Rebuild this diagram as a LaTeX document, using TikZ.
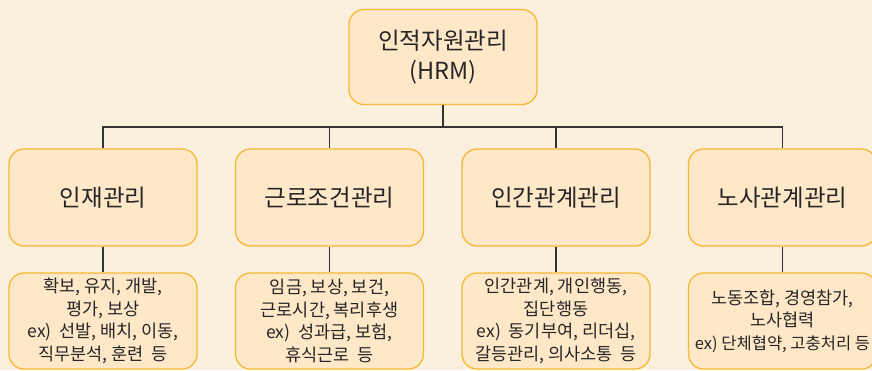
\documentclass[tikz,border=0pt]{standalone}
\usepackage{fontspec}
\setmainfont{Noto Sans CJK KR}
\definecolor{bgc}{RGB}{251,240,221}
\definecolor{boxfill}{RGB}{255,232,200}
\definecolor{boxline}{RGB}{246,184,52}
\definecolor{linec}{RGB}{51,51,51}
\newcommand{\gapsp}{\hspace{0.45em}}
\begin{document}
\begin{tikzpicture}[x=1pt,y=-1pt,
  hbox/.style={draw=boxline,fill=boxfill,line width=1.3pt,rounded corners=15pt,
    minimum width=188pt,align=center,inner sep=0pt,text=black!85},
  topbox/.style={hbox,minimum height=95pt,font=\fontsize{23.5}{30}\selectfont},
  midbox/.style={hbox,minimum height=97pt,font=\fontsize{23.5}{26}\selectfont},
  lowbox/.style={hbox,minimum height=96pt,font=\fontsize{17.5}{22.5}\selectfont},
  conn/.style={draw=linec,line width=1.5pt}]
\fill[bgc] (0,0) rectangle (872,370);
\useasboundingbox (0,0) rectangle (872,370);
\node[topbox] (top) at (443,57) {인적자원관리\\(HRM)};
\node[midbox] (m1) at (103,197.5) {인재관리};
\node[midbox] (m2) at (329.5,197.5) {근로조건관리};
\node[midbox] (m3) at (556,197.5) {인간관계관리};
\node[midbox] (m4) at (782.5,197.5) {노사관계관리};
\node[lowbox] (b1) at (103,321) {확보, 유지, 개발,\\평가, 보상\\ex)\gapsp 선발, 배치, 이동,\\직무분석, 훈련\gapsp 등};
\node[lowbox] (b2) at (329.5,321) {임금, 보상, 보건,\\근로시간, 복리후생\\ex)\gapsp 성과급, 보험,\\휴식근로\gapsp 등};
\node[lowbox] (b3) at (556,321) {인간관계, 개인행동,\\집단행동\\ex)\gapsp 동기부여, 리더십,\\갈등관리, 의사소통\gapsp 등};
\node[lowbox] (b4) at (782.5,321) {노동조합, 경영참가,\\노사협력\\{\fontsize{16.5}{22.5}\selectfont ex) 단체협약, 고충처리 등}};
\foreach \m in {m1,m2,m3,m4}
  \draw[conn] (top.south) -- ++(0,22) -| (\m.north);
\draw[conn] (m1.south) -- (b1.north);
\draw[conn] (m2.south) -- (b2.north);
\draw[conn] (m3.south) -- (b3.north);
\draw[conn] (m4.south) -- (b4.north);
\end{tikzpicture}
\end{document}
